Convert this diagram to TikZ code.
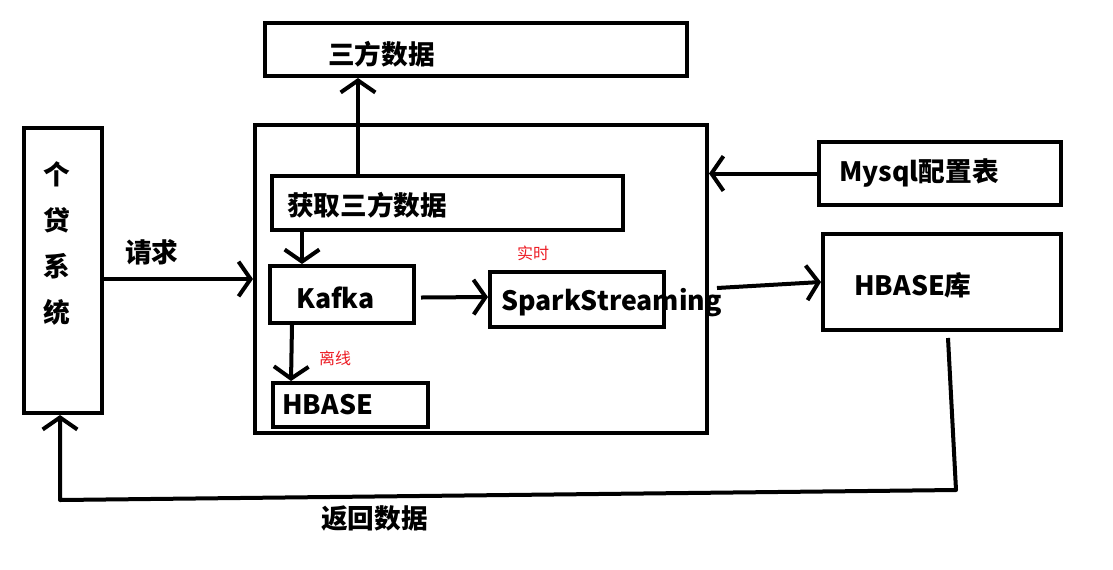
\documentclass[tikz,border=0pt]{standalone}
\usepackage{fontspec}
\setmainfont{Noto Sans CJK SC}
\usetikzlibrary{arrows.meta,fit,calc}
\definecolor{mspred}{RGB}{237,28,36}
\tikzset{
  box/.style={draw=black, line width=3pt, inner sep=0pt, rectangle},
  lbl/.style={font=\fontsize{20}{23}\selectfont\bfseries, inner sep=0pt, anchor=west},
  note/.style={font=\fontsize{12}{14}\selectfont, text=mspred, inner sep=0pt},
  ln/.style={line width=3pt, line join=round},
  arr/.style={ln, -{Straight Barb[length=9pt,width=26pt,line width=3pt]}},
}
\begin{document}
\begin{tikzpicture}[x=0.75pt,y=-0.75pt]
\useasboundingbox (0,0) rectangle (1113,569);
\fill[white] (0,0) rectangle (1113,569);
% boxes
\node[box, fit={(265,23) (687,76)}] (tri) {};
\node[box, fit={(255,125) (707,433)}] (big) {};
\node[box, fit={(272,176) (623,230)}] (get) {};
\node[box, fit={(270,266) (414,323)}] (kaf) {};
\node[box, fit={(490,272) (664,327)}] (spk) {};
\node[box, fit={(273,383) (428,427)}] (hbs) {};
\node[box, fit={(24,128) (102,413)}] (gd) {};
\node[box, fit={(819,142) (1061,205)}] (my) {};
\node[box, fit={(823,234) (1061,330)}] (hb) {};
% texts
\node[lbl] (ttri) at (328,54) {三方数据};
\node[lbl] (tget) at (287,205) {获取三方数据};
\node[lbl] (tkaf) at (296,298) {Kafka};
\node[lbl] (tspk) at (501,303) {SparkStreaming};
\node[lbl] (thbs) at (282,405) {HBASE};
\node[lbl] (tmy) at (839,173) {Mysql配置表};
\node[lbl] (thb) at (854,285) {HBASE库};
\node[lbl, anchor=center, align=center, font=\fontsize{20}{34.5}\selectfont\bfseries] (tgd) at (57,243) {个\\贷\\系\\统};
\node[lbl] (treq) at (125,252) {请求};
\node[lbl] (tret) at (321,518) {返回数据};
\node[note] (tss) at (533,253) {实时};
\node[note] (tlx) at (335,358) {离线};
% connectors
\draw[arr] (gd.east |- big.west) -- (big.west);
\draw[arr] (get.north -| 358,0) -- (tri.south -| 358,0);
\draw[arr] (get.south -| 302,0) -- (kaf.north -| 302,0);
\draw[arr] ($(kaf.east)+(5,3)$) -- (spk.west |- 0,297);
\draw[arr] (kaf.south -| 292,0) -- (hbs.north -| 291,0);
\draw[arr] (my.west) -- (big.east |- my.west);
\draw[arr] ($(big.east)+(8,9)$) -- (hb.west);
\coordinate (r1) at (956,490);
\coordinate (r2) at (60,500);
\draw[arr] ($(hb.south)+(6,6)$) -- (r1) -- (r2) -- (gd.south -| r2);
\end{tikzpicture}
\end{document}
